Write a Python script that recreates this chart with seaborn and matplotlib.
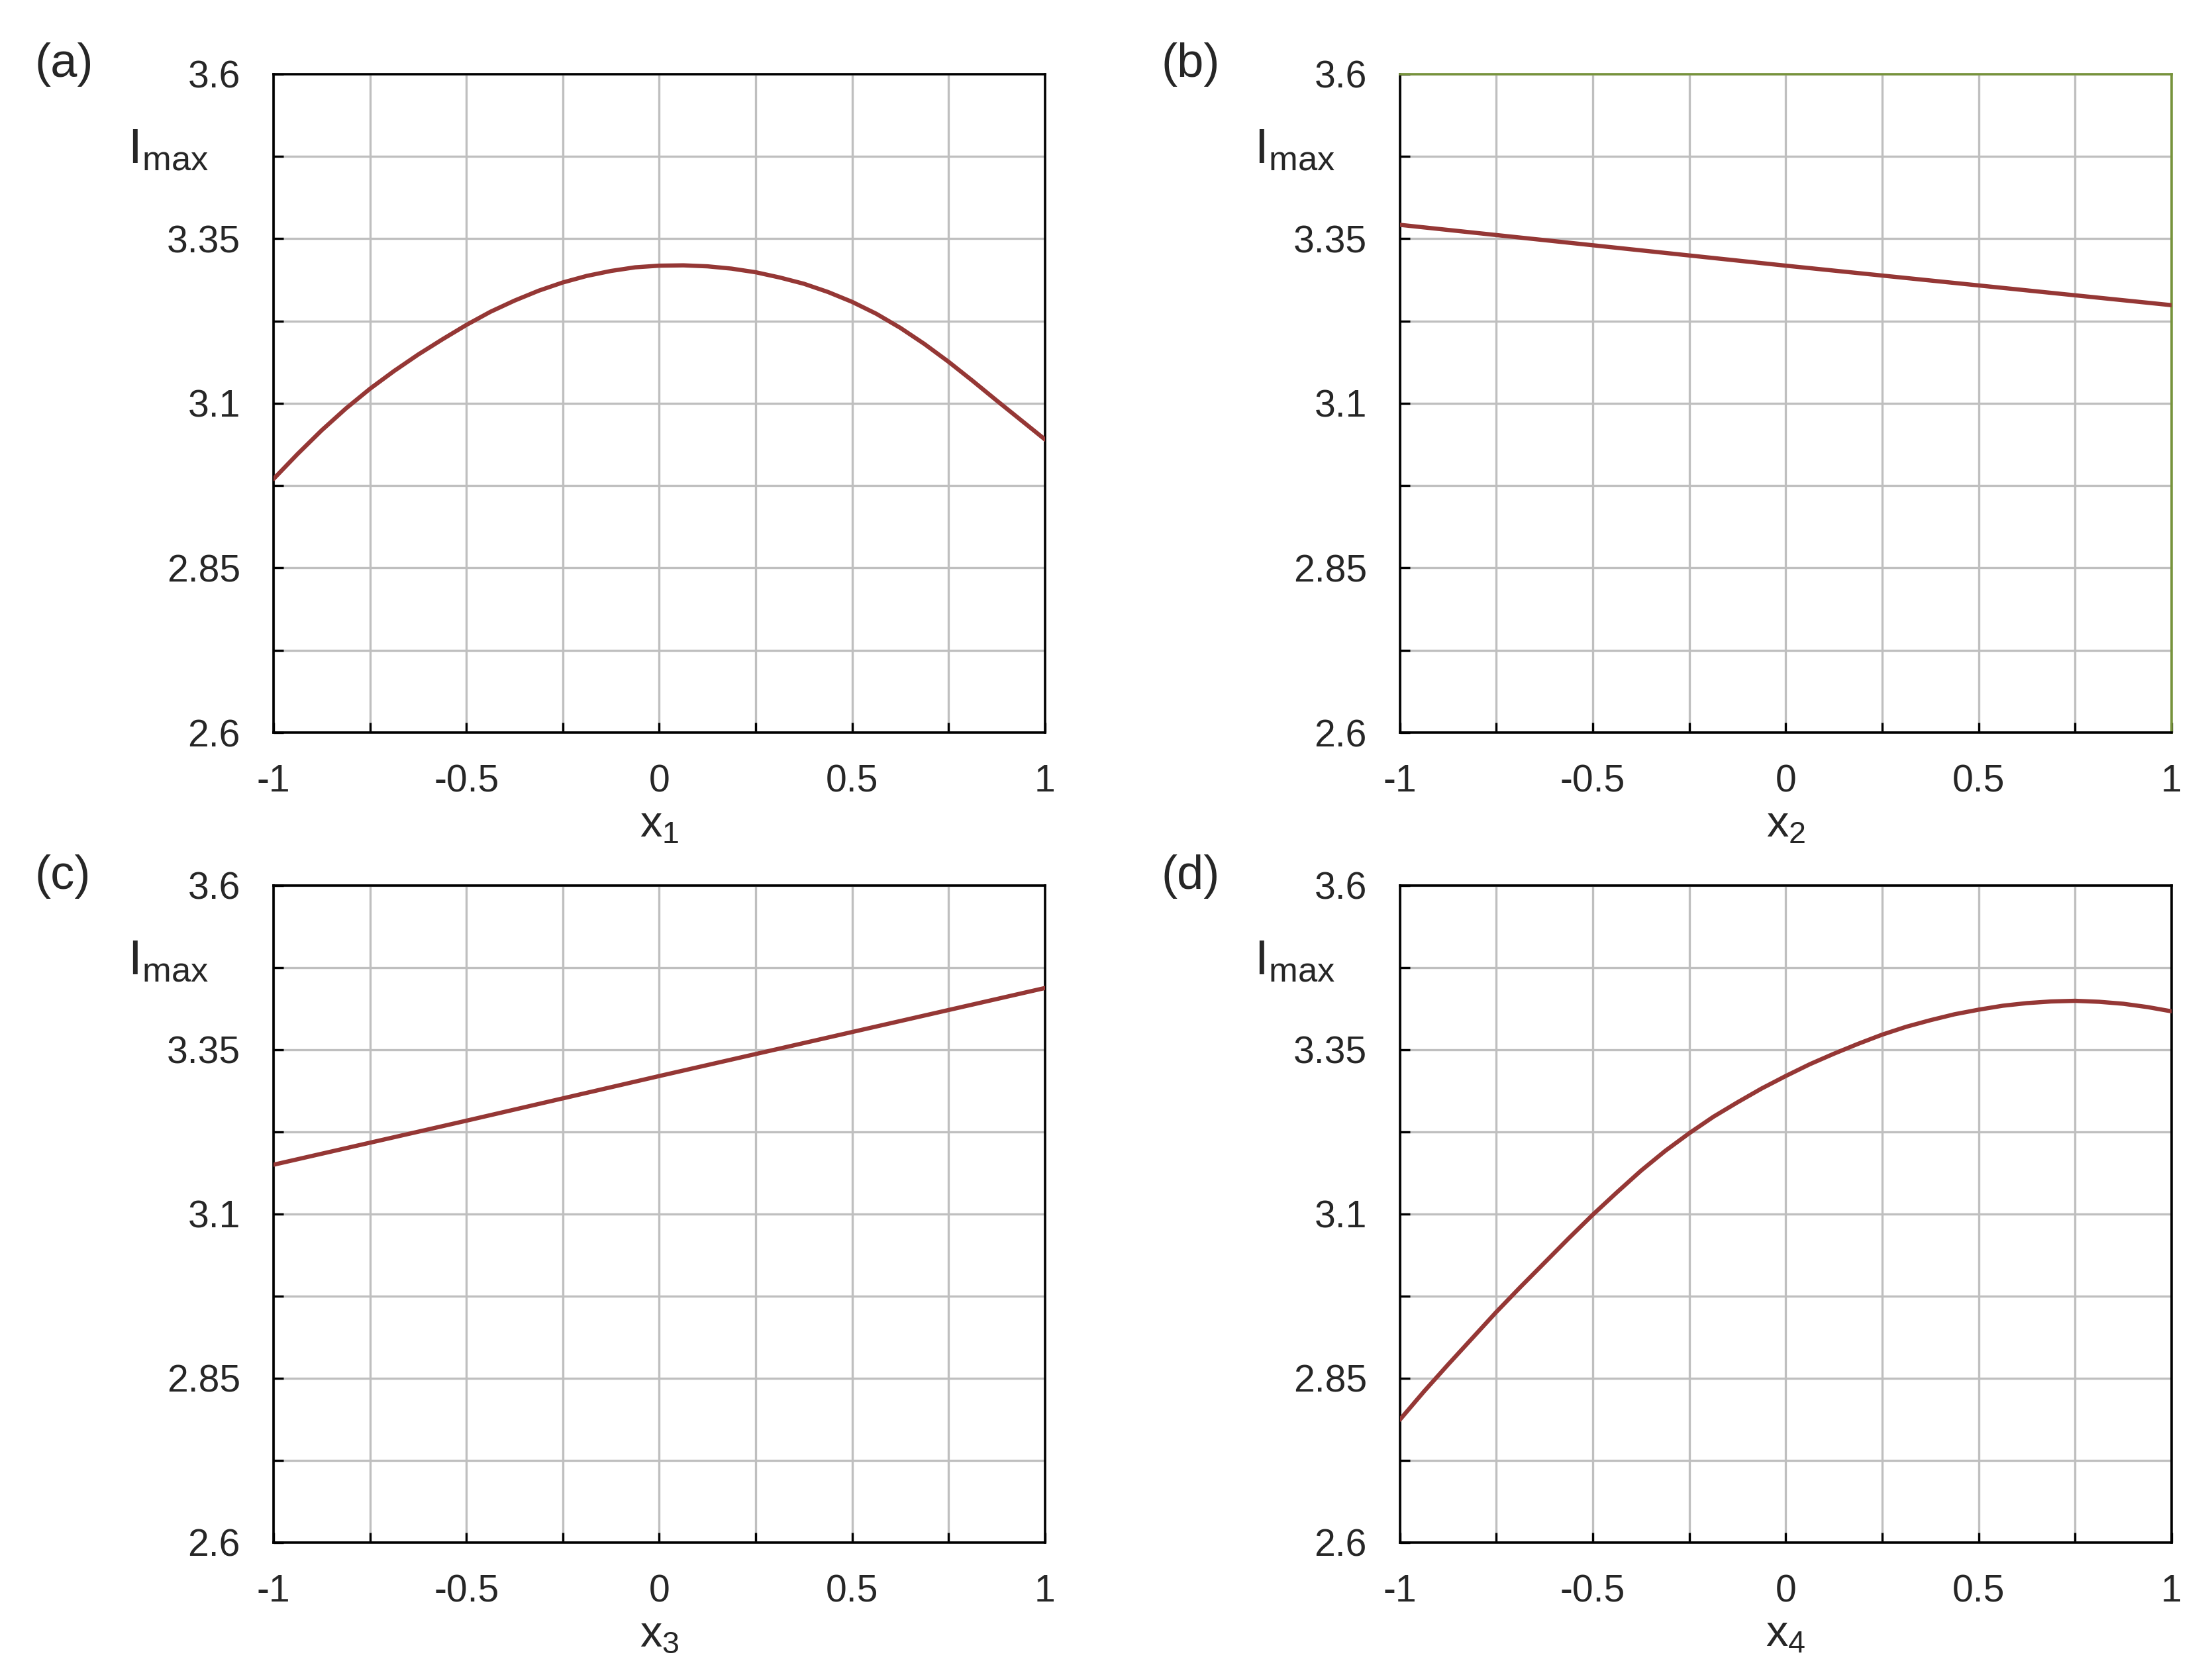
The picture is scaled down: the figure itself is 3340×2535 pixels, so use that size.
import numpy as np
import pandas as pd
import matplotlib
matplotlib.use("Agg")
import matplotlib.pyplot as plt
from matplotlib.ticker import FixedLocator
import seaborn as sns

# values (every 1/16 along x for the curved ones)
x_dense = [-1, -0.9375, -0.875, -0.8125, -0.75, -0.6875, -0.625, -0.5625,
           -0.5, -0.4375, -0.375, -0.3125, -0.25, -0.1875, -0.125, -0.0625,
           0, 0.0625, 0.125, 0.1875, 0.25, 0.3125, 0.375, 0.4375,
           0.5, 0.5625, 0.625, 0.6875, 0.75, 0.8125, 0.875, 0.9375, 1]
x_lin = [-1, -0.5, 0, 0.5, 1]

imax_x1 = [2.985, 3.023, 3.059, 3.092, 3.122, 3.149, 3.174, 3.197,
           3.219, 3.239, 3.256, 3.271, 3.2835, 3.2935, 3.301, 3.3065,
           3.309, 3.3095, 3.308, 3.3045, 3.299, 3.291, 3.2815, 3.269,
           3.254, 3.236, 3.2145, 3.190, 3.163, 3.134, 3.104, 3.0745, 3.045]
imax_x2 = [3.371, 3.340, 3.309, 3.279, 3.249]
imax_x3 = [3.175, 3.242, 3.310, 3.377, 3.444]
imax_x4 = [2.787, 2.830, 2.871, 2.911, 2.951, 2.989, 3.026, 3.063,
           3.099, 3.133, 3.166, 3.196, 3.223, 3.248, 3.270, 3.291,
           3.310, 3.328, 3.344, 3.359, 3.373, 3.385, 3.395, 3.404,
           3.411, 3.417, 3.421, 3.4235, 3.4245, 3.423, 3.420, 3.415, 3.4085]

panel_tags = ["(a)", "(b)", "(c)", "(d)"]
x_labels = ["$x_1$", "$x_2$", "$x_3$", "$x_4$"]
y_label = "$I_{max}$"
y_ticks = [2.6, 2.85, 3.1, 3.35, 3.6]
y_minor = [2.725, 2.975, 3.225, 3.475]
x_ticks = [-1, -0.5, 0, 0.5, 1]
x_minor = [-0.75, -0.25, 0.25, 0.75]

sns.set_theme(style="white")
plt.rcParams["font.family"] = ["Liberation Sans", "DejaVu Sans"]
plt.rcParams["mathtext.default"] = "regular"
plt.rcParams["axes.unicode_minus"] = False

line_color = "#953735"
grid_color = "#bfbfbf"
green = "#77933c"

fig = plt.figure(figsize=(16.705, 12.675), dpi=200)

# axes boxes in figure fractions: left, bottom, width, height
boxes = [
    (0.1236, 0.5637, 0.3487, 0.3922),
    (0.6327, 0.5637, 0.3487, 0.3922),
    (0.1236, 0.0813, 0.3487, 0.3913),
    (0.6327, 0.0813, 0.3487, 0.3913),
]

series = [
    pd.DataFrame({"x": x_dense, "imax": imax_x1}),
    pd.DataFrame({"x": x_lin, "imax": imax_x2}),
    pd.DataFrame({"x": x_lin, "imax": imax_x3}),
    pd.DataFrame({"x": x_dense, "imax": imax_x4}),
]

for i, (box, df) in enumerate(zip(boxes, series)):
    ax = fig.add_axes(box)
    sns.lineplot(data=df, x="x", y="imax", ax=ax, color=line_color,
                 linewidth=2.3, zorder=3, solid_joinstyle="round")

    ax.set_xlim(-1, 1)
    ax.set_ylim(2.6, 3.6)
    ax.set_xticks(x_ticks)
    ax.set_xticklabels([f"{t:g}" for t in x_ticks])
    ax.set_yticks(y_ticks)
    ax.set_yticklabels([f"{t:g}" for t in y_ticks])
    ax.xaxis.set_minor_locator(FixedLocator(x_minor))
    ax.yaxis.set_minor_locator(FixedLocator(y_minor))

    ax.grid(True, which="both", color=grid_color, linewidth=1.2, zorder=0)
    ax.set_axisbelow(True)

    ax.tick_params(axis="both", which="both", direction="in", length=5.5,
                   width=1.2, color="black", bottom=True, left=True,
                   top=False, right=False)
    ax.tick_params(axis="y", which="major", labelsize=20.5, pad=18)
    ax.tick_params(axis="x", which="major", labelsize=20.5, pad=17)

    for side in ax.spines.values():
        side.set_color("black")
        side.set_linewidth(1.3)
    if i == 1:
        ax.spines["top"].set_color(green)
        ax.spines["right"].set_color(green)

    ax.set_ylabel("")
    ax.set_xlabel(x_labels[i], fontsize=24)
    ax.xaxis.set_label_coords(0.5, -0.158)
    ax.xaxis.label.set_va("baseline")

    ax.text(-0.189, 0.865, y_label, transform=ax.transAxes, fontsize=27,
            ha="left", va="baseline")
    ax.text(-0.309, 1.014, panel_tags[i], transform=ax.transAxes,
            fontsize=26, ha="left", va="center")

fig.savefig("out.png", dpi=200, facecolor="white")
